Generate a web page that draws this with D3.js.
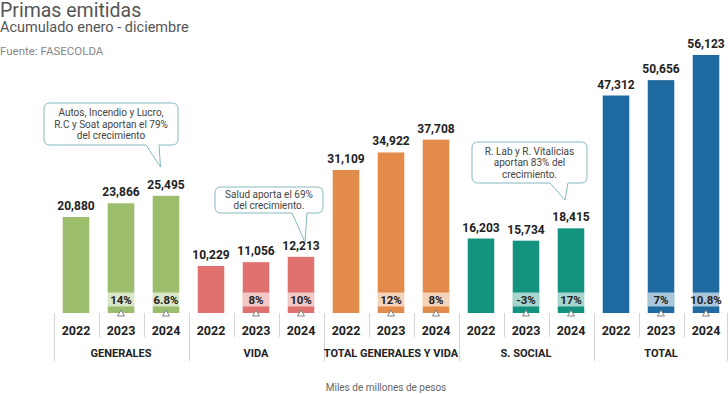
<!DOCTYPE html>
<html>
<head>
<meta charset="utf-8">
<script src="https://cdn.jsdelivr.net/npm/d3@7"></script>
<style>
  body { margin: 0; background: #fff; font-family: Roboto, 'Noto Sans', sans-serif; }
  svg text { font-family: Roboto, 'Noto Sans', sans-serif; }
</style>
</head>
<body>
<svg id="chart"></svg>
<script>
const width = 728
const height = 394

// data //////////////////////////////
const groups = ['GENERALES', 'VIDA', 'TOTAL GENERALES Y VIDA', 'S. SOCIAL', 'TOTAL']
const years = ['2022', '2023', '2024']
const generales = [20880, 23866, 25495]
const vida = [10229, 11056, 12213]
const generalesVida = [31109, 34922, 37708]
const social = [16203, 15734, 18415]
const total = [47312, 50656, 56123]
const generalesPct = ['', '14%', '6.8%']
const vidaPct = ['', '8%', '10%']
const generalesVidaPct = ['', '12%', '8%']
const socialPct = ['', '-3%', '17%']
const totalPct = ['', '7%', '10.8%']
const colors = ['#9bbd6c', '#e0716f', '#e38b4a', '#13927f', '#1f6aa0']

const notes = [
  { group: 'GENERALES', year: '2024', lines: ['Autos, Incendio y Lucro,', 'R.C y Soat aportan el 79%', 'del crecimiento'] },
  { group: 'VIDA', year: '2024', lines: ['Salud aporta el 69%', 'del crecimiento.'] },
  { group: 'S. SOCIAL', year: '2024', lines: ['R. Lab  y R. Vitalicias', 'aportan 83% del', 'crecimiento.'] }
]

const values = [generales, vida, generalesVida, social, total]
const pcts = [generalesPct, vidaPct, generalesVidaPct, socialPct, totalPct]

const data = []
groups.forEach((g, gi) => {
  years.forEach((y, yi) => {
    data.push({ key: g + '|' + y, group: g, year: y, value: values[gi][yi], pct: pcts[gi][yi], color: colors[gi] })
  })
})

const svg = d3.select('#chart').attr('width', width).attr('height', height)

/// scales //////////////////////////////
const baseline = 313
const xScale = d3.scaleBand()
  .domain(data.map(d => d.key))
  .range([53.5, 728.5])
  .paddingInner(0.41)
  .paddingOuter(0.205)
const yScale = d3.scaleLinear().domain([0, 56123]).range([baseline, 55])
const fmt = d3.format(',')
const half = (xScale.step() - xScale.bandwidth()) / 2
const cellLeft = k => xScale(k) - half
const center = k => xScale(k) + xScale.bandwidth() / 2

/// headings //////////////////////////////
svg.append('text').text('Primas emitidas')
  .attr('x', 0).attr('y', 17).attr('font-size', 19.5).attr('fill', '#555')
svg.append('text').text('Acumulado enero - diciembre')
  .attr('x', 0).attr('y', 32).attr('font-size', 14.5).attr('fill', '#555')
svg.append('text').text('Fuente: FASECOLDA')
  .attr('x', 0).attr('y', 55).attr('font-size', 11.5).attr('fill', '#888')

/// table lines //////////////////////////////
svg.append('g').selectAll('line')
  .data(data.concat([{ key: 'end' }]))
  .join('line')
  .attr('x1', (d, i) => i < data.length ? Math.round(cellLeft(d.key)) + 0.5 : 727.5)
  .attr('x2', (d, i) => i < data.length ? Math.round(cellLeft(d.key)) + 0.5 : 727.5)
  .attr('y1', baseline)
  .attr('y2', (d, i) => (i % 3 === 0) ? 361 : 337)
  .attr('stroke', '#d4d4d4')

/// bars //////////////////////////////
svg.append('g').selectAll('rect')
  .data(data)
  .join('rect')
  .attr('x', d => xScale(d.key))
  .attr('width', xScale.bandwidth())
  .attr('y', d => yScale(d.value))
  .attr('height', d => baseline - yScale(d.value))
  .attr('fill', d => d.color)

svg.append('g').selectAll('text')
  .data(data)
  .join('text')
  .attr('x', d => center(d.key))
  .attr('y', d => yScale(d.value) - 7)
  .attr('text-anchor', 'middle')
  .attr('font-size', 12)
  .attr('font-weight', 'bold')
  .attr('fill', '#222')
  .text(d => fmt(d.value))

/// growth boxes //////////////////////////////
const pctG = svg.append('g').selectAll('g')
  .data(data.filter(d => d.pct))
  .join('g')

pctG.append('text')
  .attr('class', 'pct')
  .attr('x', d => center(d.key))
  .attr('y', 303.5)
  .attr('text-anchor', 'middle')
  .attr('font-size', 11.5)
  .attr('font-weight', 'bold')
  .attr('fill', '#222')
  .text(d => d.pct)

pctG.each(function (d) {
  const g = d3.select(this)
  const bb = g.select('text').node().getBBox()
  const w = Math.max(xScale.bandwidth(), bb.width + 6)
  g.insert('rect', 'text')
    .attr('x', center(d.key) - w / 2)
    .attr('width', w)
    .attr('y', 292.5)
    .attr('height', 14)
    .attr('fill', 'rgba(255,255,255,0.62)')
})

pctG.append('path')
  .attr('d', d => {
    const c = center(d.key)
    return `M${c - 3.5},${baseline + 3} L${c},${baseline - 3} L${c + 3.5},${baseline + 3} Z`
  })
  .attr('fill', '#fff')
  .attr('stroke', '#666')
  .attr('stroke-width', 0.8)

/// axis labels //////////////////////////////
svg.append('g').selectAll('text')
  .data(data)
  .join('text')
  .attr('x', d => center(d.key))
  .attr('y', 334.5)
  .attr('text-anchor', 'middle')
  .attr('font-size', 12.5)
  .attr('font-weight', 'bold')
  .attr('fill', '#222')
  .text(d => d.year)

svg.append('g').selectAll('text')
  .data(groups)
  .join('text')
  .attr('x', g => center(g + '|2023'))
  .attr('y', 357)
  .attr('text-anchor', 'middle')
  .attr('font-size', 11)
  .attr('font-weight', 'bold')
  .attr('fill', '#222')
  .text(g => g)

svg.append('text').text('Miles de millones de pesos')
  .attr('x', 386).attr('y', 391)
  .attr('text-anchor', 'middle')
  .attr('font-size', 10)
  .attr('fill', '#666')

/// callouts //////////////////////////////
const boxes = [
  { x0: 44, x1: 178, y0: 103, y1: 145, t0: 146, t1: 159, dx: -5.5, tipY: 167 },
  { x0: 215, x1: 323, y0: 187, y1: 213, t0: 292, t1: 307, dx: 4, tipY: 242 },
  { x0: 472, x1: 587, y0: 142, y1: 183, t0: 550, t1: 568, dx: -6, tipY: 200 }
]

function calloutPath(b, tipX) {
  const r = 6
  return `M${b.x0 + r},${b.y0} H${b.x1 - r} Q${b.x1},${b.y0} ${b.x1},${b.y0 + r}` +
    ` V${b.y1 - r} Q${b.x1},${b.y1} ${b.x1 - r},${b.y1}` +
    ` H${b.t1} L${tipX},${b.tipY} L${b.t0},${b.y1}` +
    ` H${b.x0 + r} Q${b.x0},${b.y1} ${b.x0},${b.y1 - r} V${b.y0 + r} Q${b.x0},${b.y0} ${b.x0 + r},${b.y0} Z`
}

notes.forEach((n, i) => {
  const b = boxes[i]
  const tipX = center(n.group + '|' + n.year) + b.dx
  svg.append('path')
    .attr('d', calloutPath(b, tipX))
    .attr('fill', '#fff')
    .attr('stroke', '#84b8bf')
    .attr('stroke-width', 1)
  const cx = (b.x0 + b.x1) / 2
  const lh = 11.5
  const top = (b.y0 + b.y1) / 2 - (n.lines.length - 1) * lh / 2 + 3.5
  n.lines.forEach((l, li) => {
    svg.append('text')
      .attr('x', cx)
      .attr('y', top + li * lh)
      .attr('text-anchor', 'middle')
      .attr('font-size', 10)
      .attr('fill', '#444')
      .text(l)
  })
})
</script>
</body>
</html>
